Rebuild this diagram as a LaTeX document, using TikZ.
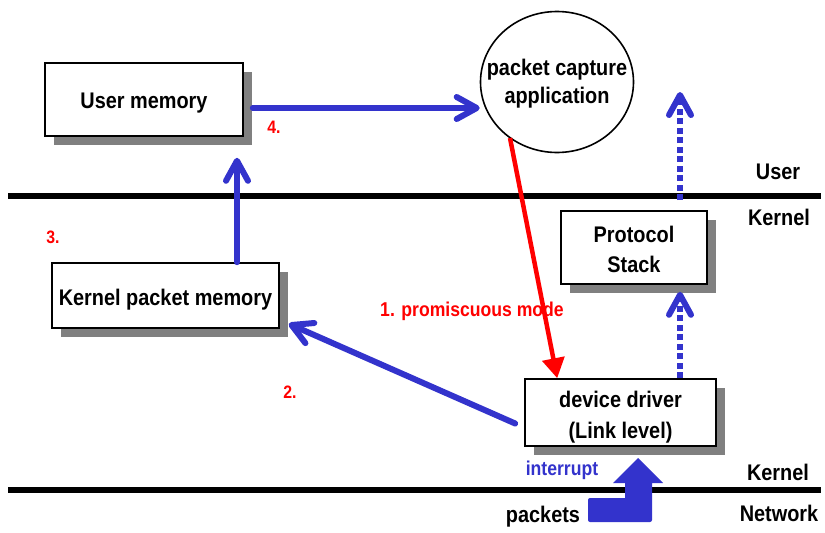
\documentclass[tikz,border=0pt]{standalone}
\usepackage{fontspec}
\setmainfont{Liberation Sans}[FakeStretch=0.88]
\usetikzlibrary{arrows.meta,shapes.geometric,shadows,calc}
\definecolor{flowblue}{RGB}{51,51,204}
\definecolor{markred}{RGB}{255,0,0}
\definecolor{shadowgray}{RGB}{128,128,128}
\begin{document}
\begin{tikzpicture}[x=1pt,y=-1pt,
  font=\bfseries\fontsize{22.6}{30}\selectfont,
  box/.style={draw=black,line width=1.6pt,fill=white,inner sep=0pt,
    drop shadow={shadow xshift=9pt,shadow yshift=-9pt,fill=shadowgray,opacity=1}},
  boxtext/.style={inner sep=0pt,align=center},
  flow/.style={draw=flowblue,line width=6pt,line cap=round,
    -{Straight Barb[length=20pt,width=22pt,round]}},
  dotflow/.style={flow,line cap=butt,dash pattern=on 6pt off 3.5pt},
  layerline/.style={line width=5.5pt,black},
  layertext/.style={anchor=center,inner sep=0pt},
  steplabel/.style={text=markred,inner sep=0pt,font=\bfseries\fontsize{18}{20}\selectfont},
]
\useasboundingbox (0,0) rectangle (825,533);

% boxes and the application ellipse
\node[box,minimum width=198pt,minimum height=73pt] (um) at (144,99.5) {};
\node[boxtext] (umtext) at ($(um.center)+(0,4)$) {User memory};
\node[draw=black,line width=1.6pt,ellipse,fill=white,minimum width=153pt,minimum height=141pt,
  inner sep=0pt] (pc) at (557,82) {};
\node[boxtext,font=\bfseries\fontsize{22.6}{28}\selectfont] (pctext) at ($(pc.center)+(0,2)$) {packet capture\\application};
\node[box,minimum width=146pt,minimum height=73pt] (ps) at (634,247.5) {};
\node[boxtext] (pstext) at ($(ps.center)+(0,1.5)$) {Protocol\\Stack};
\node[box,minimum width=227pt,minimum height=65pt] (kpm) at (165.5,295.5) {};
\node[boxtext] (kpmtext) at ($(kpm.center)+(0,4)$) {Kernel packet memory};
\node[box,minimum width=191pt,minimum height=67pt] (dd) at (620.5,412.5) {};
\node[boxtext,font=\bfseries\fontsize{22.6}{31}\selectfont] (ddtext) at ($(dd.center)+(0,5)$) {device driver\\(Link level)};

% layer boundaries
\coordinate (ulL) at (8,196);
\coordinate (ulR) at (821,196);
\coordinate (nlL) at (8,490);
\coordinate (nlR) at (821,490);
\draw[layerline] (ulL) -- (ulR);
\draw[layerline] (nlL) -- (nlR);

\node[layertext] (tUser) at (778,172) {User};
\node[layertext] (tKernel) at (779,217) {Kernel};
\node[layertext] (tKernel2) at (778,472) {Kernel};
\node[layertext] (tNet) at (779,513) {Network};
\node[layertext] (tPk) at (543,517) {packets};
\node[layertext,text=flowblue,font=\bfseries\fontsize{20}{22}\selectfont] (tInt) at (562,470) {interrupt};

% incoming packets: bent block arrow
\fill[flowblue] (588,498) -- (625,498) -- (625,483) -- (613,483) -- (638,458)
  -- (663,483) -- (652,483) -- (652,520) [rounded corners=2pt] -- (652,522) -- (588,522) -- cycle;

% 1. promiscuous mode
\node[text=markred,inner sep=0pt,font=\bfseries\fontsize{20}{22}\selectfont] (t1) at (472,311) {1. promiscuous mode};
\draw[markred,line width=4.5pt,-{Triangle[length=20pt,width=22pt]}]
  ($(pc.center)+(-47,56)$) -- ($(dd.north west)+(33,0)$);

% 2. driver to kernel packet memory
\draw[flow] ($(dd.west)+(-9,11)$) -- ($(kpm.south east)+(9,-5)$);
\node[steplabel] (t2) at (290,392) {2.};

% 3. kernel packet memory to user memory
\coordinate (a3) at (237,0);
\draw[flow] (kpm.north -| a3) -- ($(um.south -| a3)+(0,21)$);
\node[steplabel] (t3) at (53,237) {3.};

% 4. user memory to the application
\coordinate (a4) at ($(um.east)+(9,8.5)$);
\draw[flow] (a4) -- (a4 -| pc.west);
\node[steplabel] (t4) at (274,127) {4.};

% normal protocol path (dotted)
\coordinate (dx) at (680,0);
\draw[dotflow] (dd.north -| dx) -- ($(ps.south -| dx)+(0,7)$);
\draw[dotflow] ($(ulL -| dx)+(0,4)$) -- (dx |- 0,92);
\end{tikzpicture}
\end{document}
